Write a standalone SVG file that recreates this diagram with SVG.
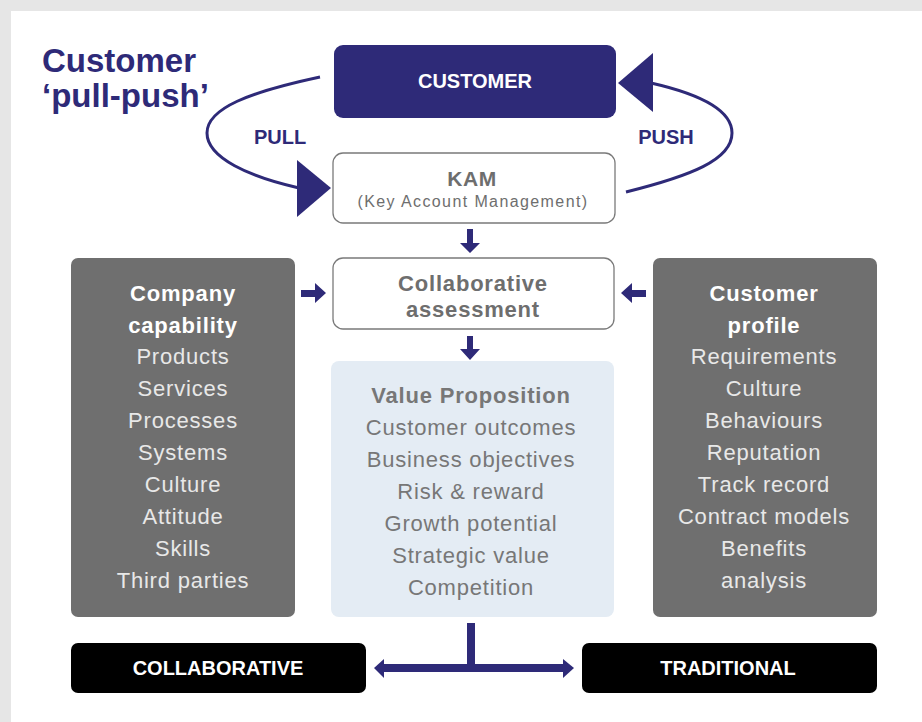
<svg xmlns="http://www.w3.org/2000/svg" width="922" height="722" viewBox="0 0 922 722">
  <defs>
    <style>
      .t { font-family: "Liberation Sans", Arial, sans-serif; text-anchor: middle; }
      .navy { fill: #2e2a78; }
      .bold { font-weight: bold; }
      .head { font-size: 22px; font-weight: bold; fill: #ffffff; letter-spacing: 0.8px; }
      .item { font-size: 22px; fill: #e8e8e8; letter-spacing: 0.8px; }
      .vp { font-size: 22px; fill: #777777; letter-spacing: 0.8px; }
      .gray { fill: #6e6e6e; }
      .outline { fill: #ffffff; stroke: #7a7a7a; stroke-width: 1.3; }
      .loop { fill: none; stroke: #2e2a78; stroke-width: 3; }
    </style>
  </defs>

  <!-- page -->
  <rect x="0" y="0" width="922" height="722" fill="#e6e6e6"/>
  <rect x="11" y="11" width="911" height="711" fill="#ffffff"/>

  <!-- title -->
  <g id="title">
    <text class="t navy bold" x="42" y="72" font-size="33" style="text-anchor:start">Customer</text>
    <text class="t navy bold" x="42" y="107" font-size="33" style="text-anchor:start">‘pull-push’</text>
  </g>

  <!-- connectors -->
  <g id="connectors">
    <!-- pull / push loop -->
    <path class="loop" d="M320,77 C250,92 207,108 207,133 C207,158 250,177 299,188"/>
    <polygon class="navy" points="297,160 331,188 297,217"/>
    <path class="loop" d="M626,192 C690,176 732,160 732,133 C732,108 695,93 651,83"/>
    <polygon class="navy" points="653,53 618,83 653,112"/>
    <text class="t navy bold" x="280" y="144" font-size="20">PULL</text>
    <text class="t navy bold" x="666" y="144" font-size="20">PUSH</text>

    <!-- KAM down to assessment -->
    <polygon class="navy" points="467,229 473,229 473,243 480,243 470,253 460,243 467,243"/>
    <!-- assessment down to value proposition -->
    <polygon class="navy" points="467,336 473,336 473,349 480,349 470,360 460,349 467,349"/>
    <!-- capability into assessment -->
    <polygon class="navy" points="301,290 315,290 315,283 326,293 315,303 315,297 301,297"/>
    <!-- profile into assessment -->
    <polygon class="navy" points="646,290 632,290 632,283 621,293 632,303 632,297 646,297"/>

    <!-- split to collaborative / traditional -->
    <rect class="navy" x="467" y="623" width="8" height="45"/>
    <rect class="navy" x="381" y="664" width="184" height="8"/>
    <polygon class="navy" points="384,659 374,668 384,678"/>
    <polygon class="navy" points="563,659 574,668 563,678"/>
  </g>

  <!-- nodes -->
  <g id="customer">
    <rect x="334" y="45" width="282" height="73" rx="9" fill="#2e2a78"/>
    <text class="t bold" x="475" y="88" font-size="20" fill="#ffffff">CUSTOMER</text>
  </g>

  <g id="kam">
    <rect class="outline" x="333" y="153" width="282" height="70" rx="10"/>
    <text class="t bold gray" x="472" y="186" font-size="21" letter-spacing="0.5">KAM</text>
    <text class="t gray" x="473" y="207" font-size="16" letter-spacing="1.4">(Key Account Management)</text>
  </g>

  <g id="assessment">
    <rect class="outline" x="333" y="258" width="281" height="71" rx="10"/>
    <text class="t bold gray" x="473" y="291" font-size="22" letter-spacing="0.8">Collaborative</text>
    <text class="t bold gray" x="473" y="317" font-size="22" letter-spacing="0.8">assessment</text>
  </g>

  <g id="capability">
    <rect x="71" y="258" width="224" height="359" rx="7" fill="#6f6f6f"/>
    <text class="t head" x="183" y="301">Company</text>
    <text class="t head" x="183" y="333">capability</text>
    <text class="t item" x="183" y="364">Products</text>
    <text class="t item" x="183" y="396">Services</text>
    <text class="t item" x="183" y="428">Processes</text>
    <text class="t item" x="183" y="460">Systems</text>
    <text class="t item" x="183" y="492">Culture</text>
    <text class="t item" x="183" y="524">Attitude</text>
    <text class="t item" x="183" y="556">Skills</text>
    <text class="t item" x="183" y="588">Third parties</text>
  </g>

  <g id="value-proposition">
    <rect x="331" y="361" width="283" height="256" rx="8" fill="#e4ecf4"/>
    <text class="t bold vp" x="471" y="403">Value Proposition</text>
    <text class="t vp" x="471" y="435">Customer outcomes</text>
    <text class="t vp" x="471" y="467">Business objectives</text>
    <text class="t vp" x="471" y="499">Risk &amp; reward</text>
    <text class="t vp" x="471" y="531">Growth potential</text>
    <text class="t vp" x="471" y="563">Strategic value</text>
    <text class="t vp" x="471" y="595">Competition</text>
  </g>

  <g id="profile">
    <rect x="653" y="258" width="224" height="359" rx="7" fill="#6f6f6f"/>
    <text class="t head" x="764" y="301">Customer</text>
    <text class="t head" x="764" y="333">profile</text>
    <text class="t item" x="764" y="364">Requirements</text>
    <text class="t item" x="764" y="396">Culture</text>
    <text class="t item" x="764" y="428">Behaviours</text>
    <text class="t item" x="764" y="460">Reputation</text>
    <text class="t item" x="764" y="492">Track record</text>
    <text class="t item" x="764" y="524">Contract models</text>
    <text class="t item" x="764" y="556">Benefits</text>
    <text class="t item" x="764" y="588">analysis</text>
  </g>

  <g id="collaborative">
    <rect x="71" y="643" width="295" height="50" rx="7" fill="#000000"/>
    <text class="t bold" x="218" y="675" font-size="20" fill="#ffffff">COLLABORATIVE</text>
  </g>

  <g id="traditional">
    <rect x="582" y="643" width="295" height="50" rx="7" fill="#000000"/>
    <text class="t bold" x="728" y="675" font-size="20" fill="#ffffff">TRADITIONAL</text>
  </g>
</svg>
